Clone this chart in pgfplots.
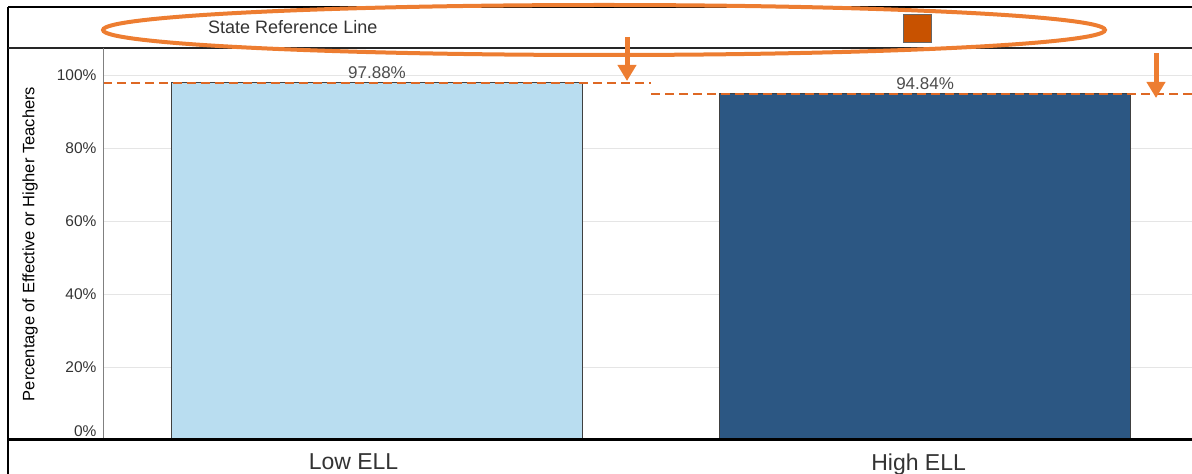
\documentclass[border=0pt]{standalone}
\usepackage{pgfplots}
\pgfplotsset{compat=1.18}
\usepackage{fontspec}
\setmainfont{Liberation Sans}
\usetikzlibrary{arrows.meta}

\definecolor{lowell}{RGB}{185,221,240}
\definecolor{highell}{RGB}{44,87,131}
\definecolor{refline}{RGB}{222,104,36}
\definecolor{annot}{RGB}{237,125,49}
\definecolor{legsq}{RGB}{200,82,0}
\definecolor{txt}{RGB}{51,51,51}

\begin{document}
\begin{tikzpicture}[x=1pt,y=1pt]
\useasboundingbox (0,0) rectangle (1192,474);
\begin{axis}[
  at={(103pt,34pt)}, anchor=south west,
  scale only axis, width=1089pt, height=392pt,
  xmin=-0.5, xmax=1.487, ymin=0, ymax=107.4,
  axis line style={draw=none},
  major tick length=0pt,
  xtick={0,1}, xticklabels={\hspace*{-47pt}Low ELL, \hspace*{-13pt}High ELL},
  ytick={20,40,60,80,100}, yticklabels={20\%,40\%,60\%,80\%,100\%},
  extra y ticks={0}, extra y tick labels={0\%},
  extra y tick style={yticklabel style={yshift=9pt}},
  ymajorgrids, grid style={black!10, line width=0.8pt},
  yticklabel style={font=\fontsize{15.5}{18}\selectfont, text=txt, xshift=-3pt},
  xticklabel style={font=\fontsize{23}{27}\selectfont, text=txt, yshift=-10pt},
  ylabel={Percentage of Effective or Higher Teachers},
  ylabel style={at={(axis description cs:-0.067,0.5)}, anchor=center,
    font=\fontsize{16.5}{20}\selectfont, text=black},
  every node near coord/.append style={font=\fontsize{17}{20}\selectfont, text=black!70},
]
\addplot[ybar, bar width=0.75, bar shift=0pt, fill=lowell, draw=black!75, line width=0.8pt,
  nodes near coords={97.88\%}] coordinates {(0,97.88)};
\addplot[ybar, bar width=0.75, bar shift=0pt, fill=highell, draw=black!75, line width=0.8pt,
  nodes near coords={94.84\%}] coordinates {(1,94.84)};
% state reference line, one segment per group
\addplot[refline, line width=2pt, dash pattern=on 9pt off 5pt] coordinates {(-0.5,97.88) (0.5,97.88)};
\addplot[refline, line width=2pt, dash pattern=on 9pt off 5pt] coordinates {(0.5,94.84) (1.5,94.84)};
\end{axis}
% frame
\draw[black, line width=1.5pt] (8,467) -- (1192,467);
\draw[black, line width=1.2pt] (8,467) -- (8,0);
\draw[black!85, line width=1.5pt] (8,426) -- (1192,426);
\draw[black!50, line width=1pt] (103,426) -- (103,34);
\draw[black, line width=3pt] (8,34) -- (1192,34);
% legend
\node[anchor=west, inner sep=0pt, font=\fontsize{18}{21}\selectfont, text=txt] at (208,447) {State Reference Line};
\filldraw[fill=legsq, draw=black!60, line width=1pt] (903,431) rectangle (931,459);
% annotations
\draw[annot, line width=4pt] (604,444) ellipse [x radius=501, y radius=25];
\draw[annot, line width=5pt, -{Triangle[width=18pt,length=16pt]}] (627,437) -- (627,393);
\draw[annot, line width=5pt, -{Triangle[width=18pt,length=16pt]}] (1156,421) -- (1156,376);
\end{tikzpicture}
\end{document}
